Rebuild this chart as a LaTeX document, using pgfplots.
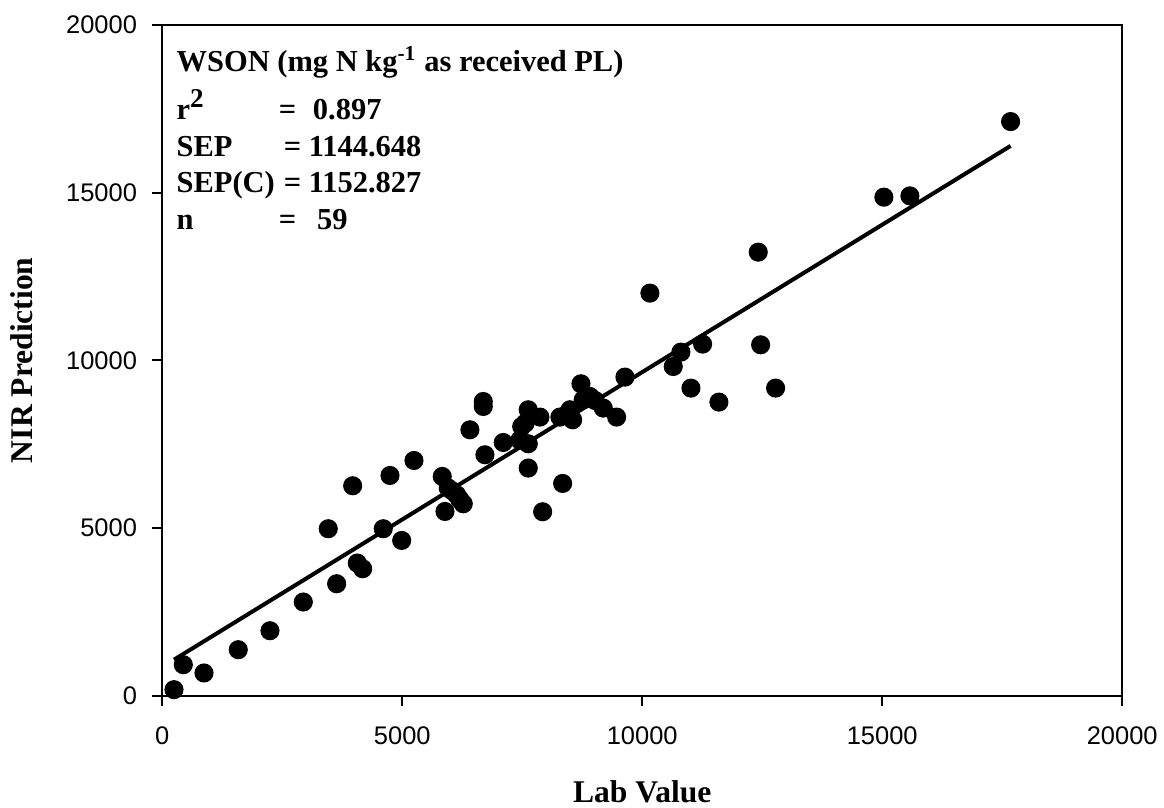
\documentclass[border=0pt]{standalone}
\usepackage{fontspec}
\setmainfont{Liberation Serif}
\newfontfamily\ticksans{Liberation Sans}
\usepackage{pgfplots}
\pgfplotsset{compat=1.18}
\usepackage{pgfplotstable}

\pgfplotstableread{
x y
244 179
438 924
869 677
1583 1371
2244 1937
2938 2793
3633 3338
3458 4978
3967 6259
4063 3955
4175 3785
4604 4978
4988 4629
4744 6566
5244 7013
5833 6537
5890 5493
5958 6191
6133 5991
6271 5723
6410 7928
6688 8772
6688 8623
6723 7183
7104 7550
7488 8027
7625 8525
7625 7511
7625 6787
7869 8307
7925 5484
8285 8307
8342 6328
8494 8525
8550 8227
8723 9300
8771 8823
8910 8921
9188 8575
9467 8307
9640 9499
10160 12003
10646 9815
10806 10244
11015 9171
11258 10483
11598 8754
12417 13225
12467 10462
12779 9171
15035 14864
15577 14903
17675 17118
7450 7620
7560 8120
6200 5850
6050 6100
8420 8380
9020 8800
}\datatable

\begin{document}
\begin{tikzpicture}
\begin{axis}[
  name=ax,
  scale only axis,
  width=346.6pt, height=242.2pt,
  xmin=0, xmax=20000, ymin=0, ymax=20000,
  xtick={0,5000,10000,15000,20000},
  ytick={0,5000,10000,15000,20000},
  scaled ticks=false,
  xtick pos=left, ytick pos=left,
  tick align=outside,
  major tick length=3.6pt,
  axis line style={line width=0.8pt},
  every tick/.style={black, line width=0.7pt},
  /pgf/number format/1000 sep={},
  /pgf/number format/assume math mode=true,
  ticklabel style={font=\ticksans\fontsize{9.2}{11}\selectfont},
  xticklabel style={yshift=-4pt},
  yticklabel style={xshift=-2pt},
  clip=false,
]
\addplot[only marks, mark=*, mark size=3.25pt, black] table[x=x, y=y] {\datatable};
\addplot[black, line width=1.45pt] coordinates {(244,1073) (17675,16393)};
\end{axis}

% axis labels
\node[font=\bfseries\fontsize{11.4}{13}\selectfont, anchor=base] at ([yshift=-38.6pt]ax.south) {Lab Value};
\node[font=\bfseries\fontsize{11.4}{13}\selectfont, rotate=90, anchor=center] at ([xshift=-50.7pt]ax.west) {NIR Prediction};

% annotation
\begin{scope}[every node/.style={font=\bfseries\fontsize{11}{12}\selectfont, anchor=base west, inner sep=0pt}]
\node at ([xshift=5.0pt, yshift=-16.9pt]ax.north west) {WSON (mg N kg\textsuperscript{-1} as received PL)};
\node at ([xshift=5.0pt, yshift=-34.3pt]ax.north west) {r\raisebox{0.42em}{\fontsize{9.8}{10}\selectfont 2}};
\node at ([xshift=41.9pt, yshift=-34.3pt]ax.north west) {=};
\node at ([xshift=54.2pt, yshift=-34.3pt]ax.north west) {0.897};
\node at ([xshift=5.0pt, yshift=-47.5pt]ax.north west) {SEP};
\node at ([xshift=43.7pt, yshift=-47.5pt]ax.north west) {=};
\node at ([xshift=52.7pt, yshift=-47.5pt]ax.north west) {1144.648};
\node at ([xshift=5.0pt, yshift=-60.6pt]ax.north west) {SEP(C)};
\node at ([xshift=43.7pt, yshift=-60.6pt]ax.north west) {=};
\node at ([xshift=52.7pt, yshift=-60.6pt]ax.north west) {1152.827};
\node at ([xshift=5.0pt, yshift=-74.0pt]ax.north west) {n};
\node at ([xshift=41.9pt, yshift=-74.0pt]ax.north west) {=};
\node at ([xshift=55.7pt, yshift=-74.0pt]ax.north west) {59};
\end{scope}

\pgfresetboundingbox
\path ([xshift=-58.6pt, yshift=-40.4pt]ax.south west) rectangle ([xshift=15.1pt, yshift=9pt]ax.north east);
\end{tikzpicture}
\end{document}
